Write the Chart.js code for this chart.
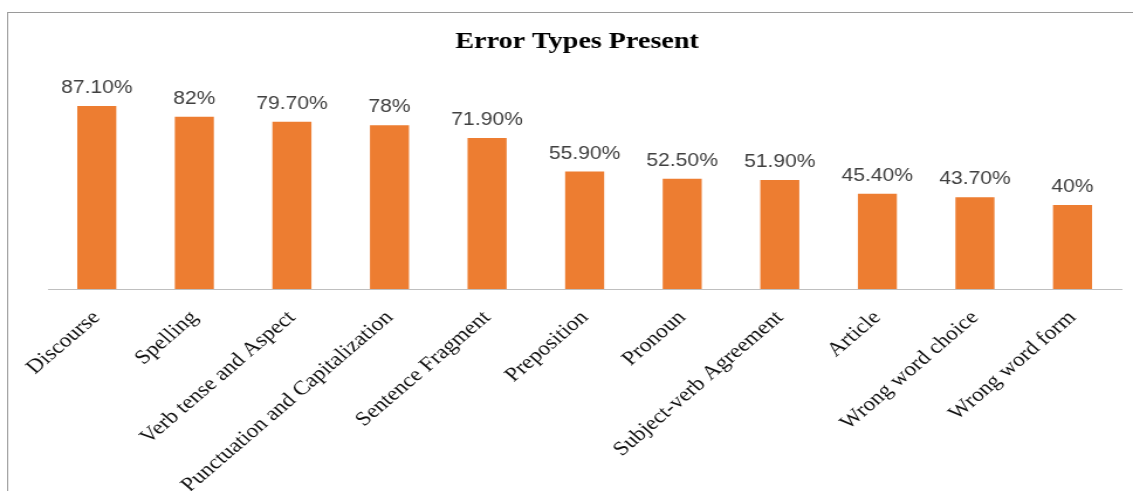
<!DOCTYPE html>
<html>
<head>
<meta charset="utf-8">
<title>Error Types Present</title>
<script src="https://cdn.jsdelivr.net/npm/chart.js@4"></script>
<style>
    html, body { margin: 0; padding: 0; background: #fff; }
</style>
</head>
<body>
<!-- the original picture is stretched sideways, so the canvas is too -->
<canvas id="chart" width="968" height="491" style="display:block;width:1133px;height:491px"></canvas>
<script>
// -------------------------------
// Daten
// -------------------------------
const categories = [
    "Discourse",
    "Spelling",
    "Verb tense and Aspect",
    "Punctuation and Capitalization",
    "Sentence Fragment",
    "Preposition",
    "Pronoun",
    "Subject-verb Agreement",
    "Article",
    "Wrong word choice",
    "Wrong word form"
];

const values = [87.1, 82, 79.7, 78, 71.9, 55.9, 52.5, 51.9, 45.4, 43.7, 40];

const valueLabels = [
    "87.10%", "82%", "79.70%", "78%", "71.90%", "55.90%",
    "52.50%", "51.90%", "45.40%", "43.70%", "40%"
];

const chartTitle = "Error Types Present";

// -------------------------------
// Rahmen + Titel
// -------------------------------
const frame = {
    id: "frame",
    beforeDraw(chart) {
        const ctx = chart.ctx;
        ctx.save();
        ctx.fillStyle = "#fff";
        ctx.fillRect(0, 0, chart.width, chart.height);
        ctx.strokeStyle = "#9a9a9a";
        ctx.lineWidth = 1;
        ctx.strokeRect(6.5, 12.5, chart.width + 20, chart.height + 20);
        ctx.fillStyle = "#000";
        ctx.font = "bold 24px 'Liberation Serif'";
        ctx.textAlign = "center";
        ctx.textBaseline = "middle";
        ctx.fillText(chartTitle, 493, 42);
        ctx.restore();
    }
};

// -------------------------------
// Werte über den Balken
// -------------------------------
const barValues = {
    id: "barValues",
    afterDatasetsDraw(chart) {
        const ctx = chart.ctx;
        const meta = chart.getDatasetMeta(0);
        ctx.save();
        ctx.fillStyle = "#404040";
        ctx.font = "18px 'Liberation Sans'";
        ctx.textAlign = "center";
        ctx.textBaseline = "alphabetic";
        meta.data.forEach((bar, i) => {
            ctx.fillText(valueLabels[i], bar.x, bar.y - 13);
        });
        ctx.restore();
    }
};

// -------------------------------
// Diagramm
// -------------------------------
new Chart(document.getElementById("chart"), {
    type: "bar",
    data: {
        labels: categories,
        datasets: [
            {
                label: chartTitle,
                data: values,
                backgroundColor: "#ed7d31",
                borderWidth: 0,
                barPercentage: 0.4,
                categoryPercentage: 1
            }
        ]
    },
    options: {
        responsive: false,
        animation: false,
        devicePixelRatio: 1,
        layout: {
            padding: { top: 79, left: 41, right: 10, bottom: 0 }
        },
        plugins: {
            legend: { display: false },
            title: { display: false },
            tooltip: { enabled: false }
        },
        scales: {
            x: {
                grid: { display: false },
                border: { color: "#bfbfbf", width: 1 },
                ticks: {
                    color: "#111",
                    font: { family: "'Liberation Serif'", size: 20 },
                    minRotation: 45,
                    maxRotation: 45,
                    autoSkip: false,
                    padding: 9
                },
                afterFit: s => { s.height = 202; }
            },
            y: {
                display: false,
                min: 0,
                max: 100
            }
        }
    },
    plugins: [frame, barValues]
});
</script>
</body>
</html>
